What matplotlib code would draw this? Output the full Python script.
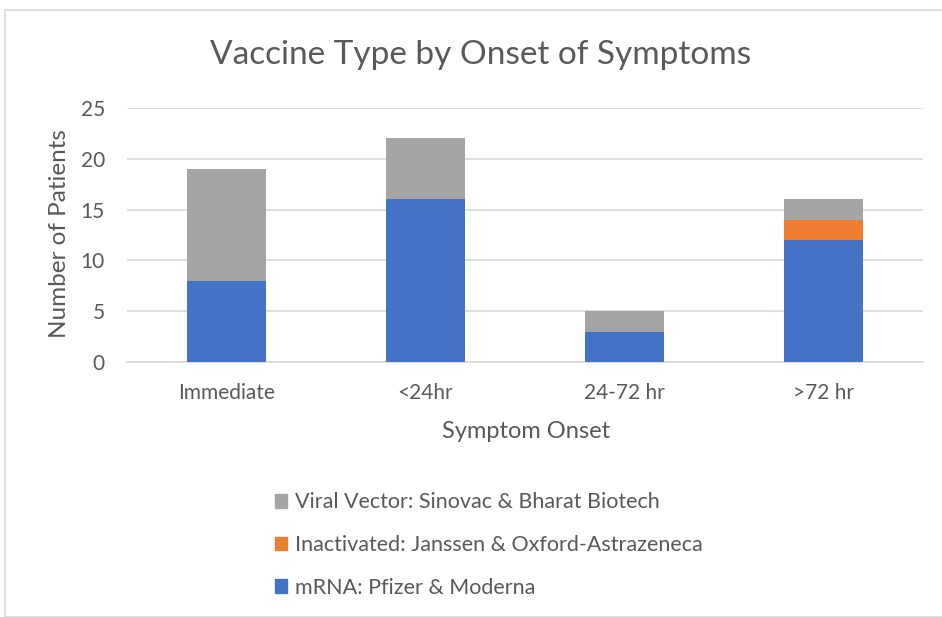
import matplotlib.pyplot as plt
from matplotlib.patches import Rectangle, Patch
import numpy as np

categories = ["Immediate", "<24hr", "24-72 hr", ">72 hr"]
mrna = [8, 16, 3, 12]
inactivated = [0, 0, 0, 2]
viral_vector = [11, 6, 2, 2]
series_names = ["mRNA: Pfizer & Moderna",
                "Inactivated: Janssen & Oxford-Astrazeneca",
                "Viral Vector: Sinovac & Bharat Biotech"]
colors = ["#4472C4", "#ED7D31", "#A5A5A5"]
text_col = "#595959"

plt.rcParams['font.family'] = ['Lato', 'DejaVu Sans']

fig = plt.figure(figsize=(9.42, 6.17), dpi=100)
fig.patches.append(Rectangle((5 / 942, 0), 2, 1 - 10 / 617, transform=fig.transFigure,
                             fill=False, edgecolor="#d9d9d9", linewidth=1.2))

ax = fig.add_axes([127 / 942, 1 - 362 / 617, (923 - 127) / 942, (362 - 108) / 617])
x = np.arange(len(categories))
w = 0.4
ax.bar(x, mrna, w, color=colors[0], zorder=3)
bot = np.array(mrna)
ax.bar(x, inactivated, w, bottom=bot, color=colors[1], zorder=3)
bot = bot + np.array(inactivated)
ax.bar(x, viral_vector, w, bottom=bot, color=colors[2], zorder=3)

ax.set_xlim(-0.5, len(categories) - 0.5)
ax.set_ylim(0, 25)
ax.set_yticks(range(0, 26, 5))
ax.yaxis.grid(True, color="#d9d9d9", linewidth=1.2, zorder=0)
for s in ["top", "right", "left"]:
    ax.spines[s].set_visible(False)
ax.spines["bottom"].set_color("#d9d9d9")
ax.spines["bottom"].set_linewidth(1.2)
ax.tick_params(axis="both", length=0, labelsize=15, labelcolor=text_col)
ax.tick_params(axis="y", pad=16)
ax.tick_params(axis="x", pad=15)
ax.set_xticks(x)
ax.set_xticklabels(categories)

fig.text(526 / 942, 1 - 432 / 617, "Symptom Onset", ha="center", va="center",
         fontsize=17, color=text_col)
fig.text(60 / 942, 1 - 234 / 617, "Number of Patients", ha="center", va="center",
         rotation=90, fontsize=17.5, color=text_col)
fig.text(481 / 942, 1 - 55 / 617, "Vaccine Type by Onset of Symptoms", ha="center", va="center",
         fontsize=24, color=text_col)

handles = [Patch(color=colors[2]), Patch(color=colors[1]), Patch(color=colors[0])]
labels = [series_names[2], series_names[1], series_names[0]]
fig.legend(handles, labels, loc="upper left", bbox_to_anchor=(256 / 942, 1 - 473 / 617),
           frameon=False, fontsize=15.5, labelcolor=text_col, handlelength=0.55,
           handleheight=0.6, handletextpad=0.35, labelspacing=1.05)

fig.savefig("out.png", dpi=100)
